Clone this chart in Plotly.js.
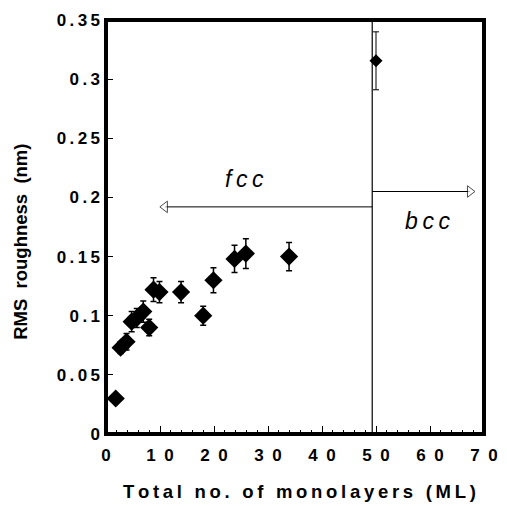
<!DOCTYPE html>
<html><head><meta charset="utf-8">
<script src="https://cdn.plot.ly/plotly-3.0.1.min.js"></script>
<style>html,body{margin:0;padding:0;background:#fff}#c{width:507px;height:506px}</style>
</head><body><div id="c"></div>
<script>
// fcc data
const fccML = [1.8, 2.7, 3.8, 4.75, 5.7, 6.9, 8.0, 8.8, 9.9, 13.9, 18.0, 19.9, 23.8, 25.9, 33.9];
const fccRMS = [0.030, 0.073, 0.078, 0.095, 0.098, 0.1035, 0.090, 0.122, 0.120, 0.120, 0.100, 0.130, 0.148, 0.1525, 0.150];
const fccErr = [0, 0.005, 0.007, 0.0085, 0.008, 0.009, 0.007, 0.010, 0.009, 0.009, 0.008, 0.0105, 0.0115, 0.0125, 0.012];
// bcc data
const bccML = [50];
const bccRMS = [0.3155];
const bccErr = [0.0245];
// boundary and arrows
const boundaryML = 49.3;
const fccArrowX = [49.3, 10.9];
const fccArrowY = [0.192, 0.192];
const bccArrowX = [49.3, 67.4];
const bccArrowY = [0.205, 0.205];
// tick labels
const xTickVals = [0, 10, 20, 30, 40, 50, 60, 70];
const xTickText = ['0', '10', '20', '30', '40', '50', '60', '70'];
const yTickVals = [0, 0.05, 0.1, 0.15, 0.2, 0.25, 0.3, 0.35];
const yTickText = ['0', '0.05', '0.1', '0.15', '0.2', '0.25', '0.3', '0.35'];
const xTitle = 'Total no. of monolayers (ML)';
const yTitle = 'RMS roughness (nm)';

const TS = '\u2009';
const EN = '\u2002';
const NB = '\u00a0';
function spaced(s, sep) { return s.split('').join(sep || TS); }
function bold(s) { return '<b>' + s + '</b>'; }

const FONT = 'Liberation Sans, Arial, Helvetica, sans-serif';

const traces = [
  {x: fccML, y: fccRMS, type: 'scatter', mode: 'markers',
   marker: {symbol: 'diamond', size: 14, color: '#000'},
   error_y: {type: 'data', array: fccErr, visible: true, color: '#000', thickness: 1.5, width: 3}},
  {x: bccML, y: bccRMS, type: 'scatter', mode: 'markers',
   marker: {symbol: 'diamond', size: 10, color: '#000'},
   error_y: {type: 'data', array: bccErr, visible: true, color: '#000', thickness: 1, width: 3}},
  {x: [boundaryML, boundaryML], y: [0, 0.35], type: 'scatter', mode: 'lines',
   line: {color: '#000', width: 1.2}},
  {x: fccArrowX, y: fccArrowY, type: 'scatter', mode: 'lines+markers',
   line: {color: '#000', width: 1},
   marker: {symbol: ['circle', 'triangle-left'], size: [0, 10], color: '#fff', line: {color: '#000', width: 1}}},
  {x: bccArrowX, y: bccArrowY, type: 'scatter', mode: 'lines+markers',
   line: {color: '#000', width: 1},
   marker: {symbol: ['circle', 'triangle-right'], size: [0, 10], color: '#fff', line: {color: '#000', width: 1}}}
];

const layout = {
  width: 507, height: 506,
  margin: {l: 106, r: 23, t: 20, b: 72},
  showlegend: false,
  paper_bgcolor: '#fff', plot_bgcolor: '#fff',
  font: {family: FONT, color: '#000'},
  xaxis: {
    range: [0, 70], showgrid: false, zeroline: false, showline: false,
    ticks: 'inside', ticklen: 8, tickwidth: 1, tickcolor: '#000',
    tickvals: xTickVals, ticktext: xTickText.map(t => bold(spaced(t, EN))),
    tickfont: {size: 17, family: FONT}, ticklabelstandoff: 9,
    minor: {dtick: 2, ticks: 'inside', ticklen: 4, tickcolor: '#000', tickwidth: 1, showgrid: false}
  },
  yaxis: {
    range: [0, 0.35], showgrid: false, zeroline: false, showline: false,
    ticks: 'inside', ticklen: 7, tickwidth: 1, tickcolor: '#000',
    tickvals: yTickVals, ticktext: yTickText.map(t => bold(spaced(t))),
    tickfont: {size: 17, family: FONT}, ticklabelstandoff: 5
  },
  shapes: [
    {type: 'rect', xref: 'paper', yref: 'paper', x0: 0, x1: 1, y0: 0, y1: 1,
     line: {color: '#000', width: 4}, layer: 'above'}
  ],
  annotations: [
    {x: 0.513, y: -0.14, xref: 'paper', yref: 'paper', xanchor: 'center', yanchor: 'middle',
     text: bold(spaced(xTitle)), showarrow: false, font: {size: 18.5, family: FONT}},
    {x: -0.225, y: 0.464, xref: 'paper', yref: 'paper', xanchor: 'center', yanchor: 'middle',
     text: bold(yTitle.replace(/ /g, NB + NB)), textangle: -90, showarrow: false, font: {size: 18.5, family: FONT}},
    {x: 25.7, y: 0.216, xref: 'x', yref: 'y', text: '<i>' + spaced('fcc') + '</i>', showarrow: false,
     font: {size: 23, family: FONT}},
    {x: 59.6, y: 0.180, xref: 'x', yref: 'y', text: '<i>' + spaced('bcc') + '</i>', showarrow: false,
     font: {size: 23, family: FONT}}
  ]
};

Plotly.newPlot('c', traces, layout, {displayModeBar: false, staticPlot: true});
</script></body></html>
